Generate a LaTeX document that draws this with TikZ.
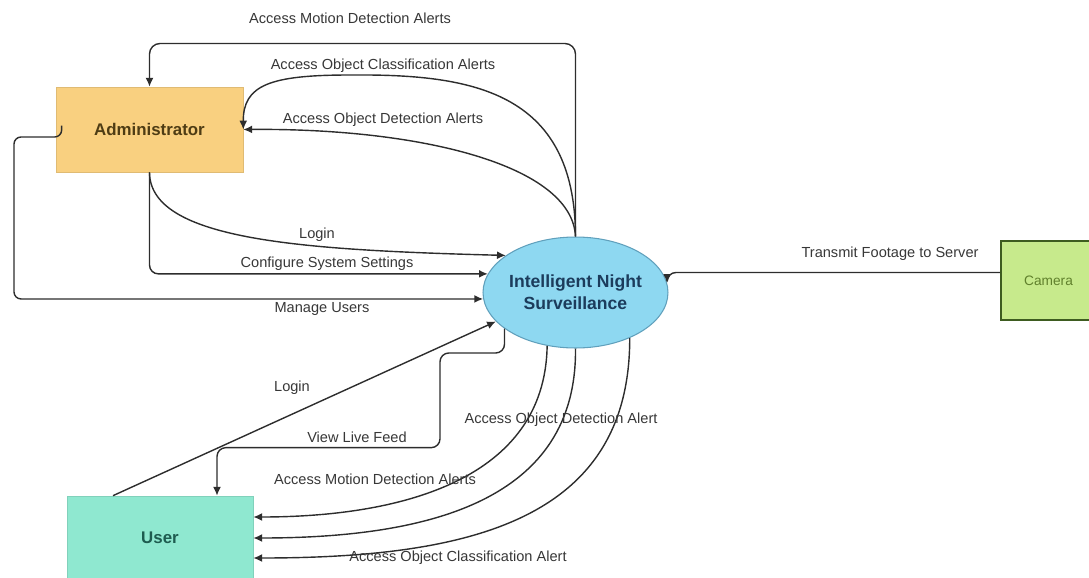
\documentclass[tikz,border=0pt]{standalone}
\usepackage{fontspec}
\setmainfont{Liberation Sans}
\usepackage{xcolor}
\usetikzlibrary{shapes.geometric,arrows.meta,calc}

\definecolor{adminfill}{RGB}{249,208,128}
\definecolor{admintext}{RGB}{78,60,20}
\definecolor{srvfill}{RGB}{142,216,241}
\definecolor{srvedge}{RGB}{96,160,188}
\definecolor{srvtext}{RGB}{28,60,92}
\definecolor{camfill}{RGB}{199,234,140}
\definecolor{camedge}{RGB}{62,92,32}
\definecolor{camtext}{RGB}{96,128,44}
\definecolor{userfill}{RGB}{143,232,208}
\definecolor{usertext}{RGB}{30,92,80}
\definecolor{linegray}{RGB}{45,45,45}
\definecolor{labelgray}{RGB}{55,55,55}

\begin{document}
\begin{tikzpicture}[x=0.02cm, y=-0.02cm,
  entity/.style={rectangle, minimum width=3.74cm, minimum height=1.7cm, font=\bfseries\fontsize{9.6}{11}\selectfont},
  process/.style={ellipse, fill=srvfill, draw=srvedge, line width=0.6pt, minimum width=3.7cm, minimum height=2.22cm, inner xsep=-1.5pt, inner ysep=0pt, align=center, text=srvtext, font=\bfseries\fontsize{10}{12.5}\selectfont},
  flow/.style={draw=linegray, line width=0.8pt, -{Latex[length=5pt,width=4.5pt]}},
  lbl/.style={text=labelgray, inner sep=1pt, font=\fontsize{8.3}{10}\selectfont}]

\useasboundingbox (0,0) rectangle (1089,578);
\clip (0,0) rectangle (1089,578);

% Entities and the system
\node[entity, fill=adminfill, draw=adminfill!90!black, text=admintext] (admin) at (149.5,129.5) {Administrator};
\node[process] (srv) at (575.5,292.5) {Intelligent Night\\Surveillance};
\node[entity, fill=camfill, draw=camedge, line width=1pt, text=camtext, minimum width=1.9cm, minimum height=1.58cm, font=\fontsize{7.8}{9}\selectfont] (cam) at (1048.5,280.5) {Camera};
\node[entity, fill=userfill, draw=userfill!90!black, text=usertext, minimum width=3.72cm, minimum height=1.68cm] (user) at (160,538) {User};

% Alerts back to the administrator
\draw[flow, rounded corners=6pt] (srv.north) -- ++(0,-193) -| (admin.north);
\draw[flow] (srv.north) .. controls (575,90) and (470,74) .. (350,75) .. controls (270,75) and (243,85) .. (admin.east);
\draw[flow] (srv.north) .. controls (572,165) and (420,128) .. (admin.east);
\node[lbl] (lmotiona) at (350,18) {Access Motion Detection Alerts};
\node[lbl] (lclassa) at (383,66) {Access Object Classification Alerts};
\node[lbl] (ldeteca) at (383,120) {Access Object Detection Alerts};

% Administrator to the system
\draw[flow] (admin.south) .. controls (150,240) and (300,250) .. (srv.152);
\draw[flow, rounded corners=5pt] (admin.south) |- (srv.168);
\draw[flow, rounded corners=4pt] ($(admin.west)+(6,-4)$) |- (14,137) |- (srv.184);
\node[lbl] (lloga) at (317,235) {Login};
\node[lbl] (lconf) at (327,264) {Configure System Settings};
\node[lbl] (lmanage) at (322,309) {Manage Users};

% Camera feed
\draw[flow, rounded corners=5pt] ($(cam.west)+(0,-8)$) -| (srv.6);
\node[lbl] (ltrans) at (890,254) {Transmit Footage to Server};

% User and the system
\draw[flow] ($(user.north)+(-47,0)$) -- (srv.200);
\draw[flow, rounded corners=5pt] (srv.207) |- (440,353) |- ($(user.north)+(57,-48)$) -- ($(user.north)+(57,0)$);
\draw[flow] (srv.242) .. controls (545,480) and (400,517) .. ($(user.east)+(0,-21)$);
\draw[flow] (srv.south) .. controls (577,500) and (430,538) .. (user.east);
\draw[flow] (srv.320) .. controls (630,520) and (470,558) .. ($(user.east)+(0,20)$);
\node[lbl] (llogu) at (292,388) {Login};
\node[lbl] (lfeed) at (357,437) {View Live Feed};
\node[lbl] (ldetecu) at (561,420) {Access Object Detection Alert};
\node[lbl] (lmotionu) at (375,479) {Access Motion Detection Alerts};
\node[lbl] (lclassu) at (458,558) {Access Object Classification Alert};

\end{tikzpicture}
\end{document}
